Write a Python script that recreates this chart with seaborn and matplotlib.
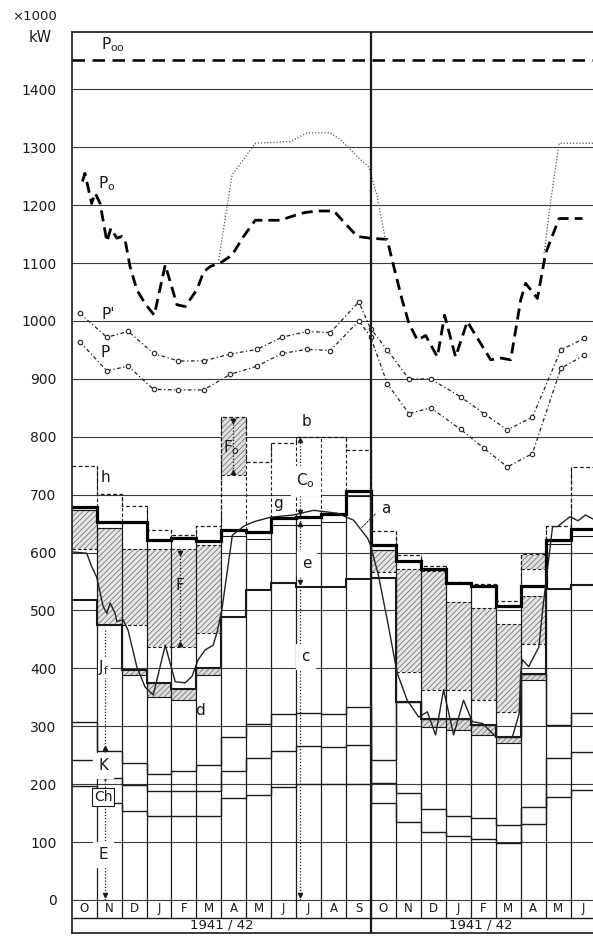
import numpy as np
import pandas as pd
import matplotlib
matplotlib.use("Agg")
import matplotlib.pyplot as plt
import seaborn as sns

# ---------------- data ----------------
months = ['O', 'N', 'D', 'J', 'F', 'M', 'A', 'M', 'J', 'J', 'A', 'S',
          'O', 'N', 'D', 'J', 'F', 'M', 'A', 'M', 'J']
year_labels = ['1941 / 42', '1941 / 42']
yticks = list(range(0, 1500, 100))

p_inf = 1450

# thick step line (total)
top_thick = [679, 652, 652, 622, 626, 620, 639, 635, 659, 661, 666, 706,
             613, 586, 571, 547, 542, 508, 543, 622, 640]
# dashed step line h
dash_h = [750, 702, 680, 639, 630, 646, 835, 756, 790, 800, 800, 777,
          638, 596, 577, 549, 545, 516, 597, 646, 748]
# thin line just below the thick line
upper_thin = [673, 642, None, None, None, None, 629, 623, 648, 647, 653, 697,
              604, None, None, None, None, None, None, 614, 628]
# middle step line (J_f / d / c boundary)
mid_line = [518, 475, 398, 374, 365, 400, 489, 535, 547, 540, 541, 554,
            556, 342, 313, 313, 302, 282, 391, 537, 544]
K_line = [308, 258, 237, 218, 222, 233, 282, 304, 322, 323, 322, 333,
          242, 342, 313, 313, 302, 282, 391, 302, 323]
Ch_line = [242, 210, 199, 188, 188, 188, 223, 245, 257, 266, 264, 267,
           202, 185, 157, 145, 141, 130, 160, 245, 256]
E_line = [197, 167, 153, 145, 145, 145, 177, 181, 196, 200, 200, 200,
          167, 135, 118, 110, 105, 98, 131, 178, 190]

# hatched F region
F_top = [673, 642, 606, 606, 606, 613, None, None, None, None, None, None,
         604, 571, 569, 515, 505, 476, 525, None, None]
F_bot = [606, 475, 475, 437, 437, 461, None, None, None, None, None, None,
         567, 394, 363, 363, 345, 325, 442, None, None]
# hatched boxes (F_o)
box_top = [None] * 6 + [835] + [None] * 11 + [596] + [None] * 2
box_bot = [None] * 6 + [734] + [None] * 11 + [571] + [None] * 2
# small hatched bands d
d_top = [None, None, 398, 374, 365, 400, None, None, None, None, None, None,
         None, None, 313, 313, 302, 282, 391, None, None]
d_bot = [None, None, 389, 351, 346, 389, None, None, None, None, None, None,
         None, None, 298, 294, 285, 271, 380, None, None]

# P0 curve
p0_x = [0.43, 0.53, 0.80, 0.94, 1.14, 1.41, 1.57, 1.81, 2.01, 2.14, 2.34, 2.61,
        2.94, 3.31, 3.75, 4.22, 4.55, 5.02, 5.29, 5.55, 6.02, 6.43, 6.89, 7.36,
        7.83, 8.37, 8.77, 9.30, 9.84, 10.51, 10.91, 11.45, 11.98, 12.65, 12.78,
        13.25, 13.52, 13.86, 14.19, 14.66, 14.95, 15.39, 15.86, 16.40, 16.80,
        17.20, 17.60, 18.00, 18.20, 18.67, 19.00, 19.54, 20.48]
p0_y = [1241, 1255, 1203, 1221, 1203, 1137, 1160, 1143, 1146, 1140, 1094, 1054,
        1030, 1010, 1097, 1028, 1025, 1054, 1085, 1094, 1102, 1114, 1146, 1174,
        1174, 1174, 1180, 1187, 1190, 1190, 1171, 1146, 1143, 1141, 1117,
        1036, 996, 967, 975, 938, 1010, 938, 999, 961, 933,
        936, 933, 1036, 1065, 1039, 1117, 1177, 1177]
# dotted envelope
env1_x = [5.89, 6.43, 7.36, 8.77, 9.44, 10.37, 10.78, 11.45, 11.91, 12.25, 12.58]
env1_y = [1105, 1252, 1307, 1310, 1325, 1325, 1313, 1284, 1266, 1215, 1140]
env2_x = [18.94, 19.21, 19.54, 20.55, 20.9]
env2_y = [1117, 1209, 1307, 1307, 1307]
# P' and P
pp_x = [0.33, 1.41, 2.27, 3.28, 4.28, 5.29, 6.36, 7.43, 8.43, 9.44, 10.37, 11.51,
        11.98, 12.65, 13.52, 14.39, 15.59, 16.53, 17.47, 18.47, 19.61, 20.55]
p_prime = [1013, 972, 982, 944, 931, 931, 943, 951, 972, 982, 980, 1033,
           987, 950, 900, 900, 869, 840, 812, 834, 950, 970]
p_vals = [964, 914, 922, 882, 881, 881, 908, 922, 944, 951, 949, 1000,
          973, 892, 840, 850, 813, 780, 748, 771, 918, 941]
# thin curve a
a_x = [0.05, 0.60, 0.80, 1.00, 1.26, 1.41, 1.54, 1.74, 1.81, 2.06, 2.26, 2.61,
       2.94, 3.27, 3.75, 4.15, 4.55, 4.82, 5.07, 5.35, 5.67, 5.82, 6.02, 6.44,
       6.88, 7.28, 7.96, 8.89, 9.69, 10.65, 11.30, 11.86, 11.98, 12.30, 12.65,
       13.05, 13.45, 13.91, 14.26, 14.59, 14.91, 15.31, 15.71, 16.06, 16.47,
       17.00, 17.67, 17.94, 18.00, 18.07, 18.32, 18.73, 18.88, 19.28, 19.48,
       19.98, 20.30, 20.60, 20.90]
a_y = [601, 599, 576, 558, 507, 495, 513, 495, 481, 484, 466, 403,
       368, 354, 440, 377, 375, 386, 415, 432, 440, 461, 501, 630,
       645, 653, 661, 665, 673, 668, 656, 625, 613, 560, 484,
       392, 345, 316, 325, 285, 363, 285, 345, 308, 305,
       282, 282, 322, 392, 415, 403, 437, 501, 645, 645,
       662, 655, 665, 658]


def arr(v):
    return np.array([np.nan if x is None else x for x in v], dtype=float)


n = len(months)
edges = np.arange(n + 1)
x_left = np.arange(n)

# ---------------- figure ----------------
sns.set_theme(style="white")
plt.rcParams['font.family'] = ['DejaVu Sans']
plt.rcParams['hatch.linewidth'] = 0.6

W, H = 593, 940
fig = plt.figure(figsize=(W / 100, H / 100), dpi=100)
ax = fig.add_axes([71.7 / W, 7 / H, (W - 71.7) / W, (933 - 31.5) / H])
ax.set_xlim(0, 20.9)
ax.set_ylim(-57, 1500)

ink = '#1a1a1a'

# grid lines
for v in yticks:
    ax.axhline(v, color='#3a3a3a', lw=0.8, zorder=1)
ax.axhline(-31, color=ink, lw=1.0, zorder=1)

# hatched regions
hcol = '#7a7a7a'
ft, fb = arr(F_top), arr(F_bot)
m = ~np.isnan(ft)
ax.bar(x_left[m], (ft - fb)[m], bottom=fb[m], width=1, align='edge',
       facecolor='#e6e6e6', edgecolor=hcol, hatch='//////', linewidth=0, zorder=2)
ax.hlines(ft[m], x_left[m], x_left[m] + 1, colors=ink, lw=0.8, linestyles=(0, (3, 2)), zorder=3)
ax.hlines(fb[m], x_left[m], x_left[m] + 1, colors=ink, lw=0.8, linestyles=(0, (3, 2)), zorder=3)

bt, bb = arr(box_top), arr(box_bot)
m = ~np.isnan(bt)
ax.bar(x_left[m], (bt - bb)[m], bottom=bb[m], width=1, align='edge',
       facecolor='#e0e0e0', edgecolor=hcol, hatch='//////', linewidth=0, zorder=2)
ax.hlines(bb[m], x_left[m], x_left[m] + 1, colors=ink, lw=0.8, linestyles=(0, (3, 2)), zorder=3)

dt, db = arr(d_top), arr(d_bot)
m = ~np.isnan(dt)
ax.bar(x_left[m], (dt - db)[m], bottom=db[m], width=1, align='edge',
       facecolor='#dcdcdc', edgecolor=hcol, hatch='//////', linewidth=0, zorder=2)
ax.hlines(db[m], x_left[m], x_left[m] + 1, colors=ink, lw=0.8, zorder=3)

# month boundary lines
tt = np.array(top_thick, float)
hh = np.array(dash_h, float)
for b in range(1, n):
    lo = max(tt[b - 1], tt[b])
    hi = max(hh[b - 1], hh[b])
    ax.vlines(b, -31, lo, colors=ink, lw=0.9, zorder=3)
    ax.vlines(b, lo, hi, colors=ink, lw=0.8, linestyles=(0, (3, 2)), zorder=3)
ax.vlines(12, -57, 1500, colors=ink, lw=1.6, zorder=6)

# step lines
ax.stairs(E_line, edges, baseline=None, color=ink, lw=1.0, zorder=4)
ax.stairs(Ch_line, edges, baseline=None, color=ink, lw=1.0, zorder=4)
ax.stairs(K_line, edges, baseline=None, color=ink, lw=1.0, zorder=4)
ax.stairs(mid_line, edges, baseline=None, color=ink, lw=1.5, zorder=4)
ut = arr(upper_thin)
m = ~np.isnan(ut)
ax.hlines(ut[m], x_left[m], x_left[m] + 1, colors=ink, lw=0.8, zorder=4)
ax.stairs(dash_h, edges, baseline=None, color=ink, lw=0.9,
          linestyle=(0, (3, 2)), zorder=4)
ax.stairs(top_thick, edges, baseline=None, color='black', lw=2.3, zorder=5)

# curves
ax.axhline(p_inf, color='black', lw=1.8, linestyle=(0, (5, 3)), zorder=5)
df_p0 = pd.DataFrame({'x': p0_x, 'y': p0_y})
sns.lineplot(data=df_p0, x='x', y='y', ax=ax, sort=False, estimator=None,
             color='black', lw=2.0, linestyle=(0, (4, 2.2)), zorder=5)
sns.lineplot(x=env1_x, y=env1_y, ax=ax, sort=False, estimator=None,
             color='#555555', lw=0.9, linestyle=(0, (1, 1.5)), zorder=5)
sns.lineplot(x=env2_x, y=env2_y, ax=ax, sort=False, estimator=None,
             color='#555555', lw=0.9, linestyle=(0, (1, 1.5)), zorder=5)
for vals in (p_prime, p_vals):
    sns.lineplot(x=pp_x, y=vals, ax=ax, sort=False, estimator=None,
                 color='#222222', lw=0.9, linestyle=(0, (3, 2, 1, 2)),
                 marker='o', markersize=3.2, markerfacecolor='white',
                 markeredgecolor='#222222', markeredgewidth=0.8, zorder=5)
sns.lineplot(x=a_x, y=a_y, ax=ax, sort=False, estimator=None,
             color='#222222', lw=1.0, zorder=6)

# arrows (dotted)
def vdot(x, y0, y1):
    ax.plot([x, x], [y0, y1], color=ink, lw=0.9, linestyle=(0, (1, 1.5)), zorder=6)

vdot(1.34, 0, 470)
vdot(9.17, 0, 805)
vdot(4.36, 437, 606)
vdot(6.48, 734, 834)
for (x, y, mk) in [(1.34, 8, 'v'), (1.34, 262, '^'), (1.34, 210, 'v'), (1.34, 167, '^'),
                   (9.17, 8, 'v'), (9.17, 795, '^'), (9.17, 670, 'v'), (9.17, 650, '^'),
                   (9.17, 550, 'v'), (4.36, 600, 'v'), (4.36, 443, '^'),
                   (6.48, 828, 'v'), (6.48, 740, '^')]:
    ax.plot([x], [y], marker=mk, color=ink, markersize=3, zorder=7)

# labels in the plot
fs = 11
lab = dict(color=ink, ha='center', va='center', fontsize=fs, zorder=8)
ax.text(1.66, 1477, r'P$_{\mathrm{oo}}$', **lab)
ax.text(1.42, 1238, r'P$_{\mathrm{o}}$', **lab)
ax.text(1.46, 1012, "P'", **lab)
ax.text(1.34, 946, 'P', **lab)
ax.text(1.34, 729, 'h', **lab)
ax.text(4.35, 544, 'F', **lab)
ax.text(1.3, 401, r'J$_{\mathrm{f}}$', bbox=dict(boxstyle='square,pad=0.05', fc='white', ec='none'), **lab)
ax.text(1.26, 233, 'K', backgroundcolor='white', **lab)
ax.text(1.26, 178, 'Ch', bbox=dict(boxstyle='square,pad=0.15', fc='white', ec=ink, lw=0.8),
        **{**lab, 'fontsize': 10})
ax.text(1.26, 78, 'E', backgroundcolor='white', **lab)
ax.text(5.16, 328, 'd', **lab)
ax.text(6.4, 781, r'F$_{\mathrm{o}}$', **lab)
ax.text(9.41, 826, 'b', backgroundcolor='white', **lab)
ax.text(9.37, 725, r'C$_{\mathrm{o}}$', backgroundcolor='white', **lab)
ax.text(8.29, 684, 'g', **lab)
ax.text(9.41, 582, 'e', backgroundcolor='white', **lab)
ax.text(9.37, 421, 'c', backgroundcolor='white', **lab)
ax.text(12.6, 677, 'a', **lab)
ax.annotate('', xy=(11.55, 640), xytext=(12.25, 670),
            arrowprops=dict(arrowstyle='-', color=ink, lw=0.7, linestyle=(0, (2, 1.5))), zorder=8)

# month and year bands
for i, mo in enumerate(months):
    ax.text(i + 0.5, -15.5, mo, ha='center', va='center', fontsize=8.5, color=ink)
ax.text(6.0, -44, year_labels[0], ha='center', va='center', fontsize=9.5, color=ink)
ax.text(16.4, -44, year_labels[1], ha='center', va='center', fontsize=9.5, color=ink)

# axes cosmetics
ax.set_xticks([])
ax.set_yticks(yticks)
ax.set_yticklabels([str(v) for v in yticks])
ax.tick_params(axis='y', length=0, pad=11, labelsize=10, labelcolor=ink)
ax.set_xlabel('')
ax.set_ylabel('')
for s in ['left', 'top', 'bottom']:
    ax.spines[s].set_color(ink)
    ax.spines[s].set_linewidth(1.2)
ax.spines['right'].set_visible(False)

fig.text(35 / W, 1 - 16 / H, '×1000', ha='center', va='center', fontsize=9.5, color=ink)
fig.text(40 / W, 1 - 37 / H, 'kW', ha='center', va='center', fontsize=10.5, color=ink)

fig.savefig('out.png', dpi=100)
